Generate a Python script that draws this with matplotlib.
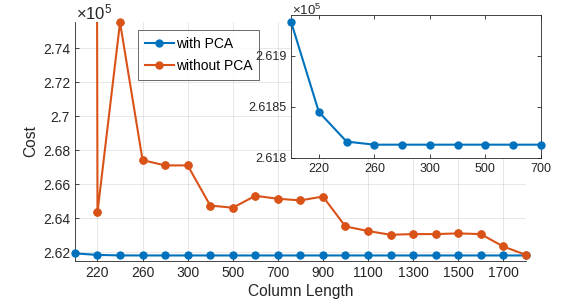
import matplotlib.pyplot as plt
import numpy as np

plt.rcParams['font.family'] = ['Liberation Sans', 'DejaVu Sans']
plt.rcParams['mathtext.fontset'] = 'custom'
plt.rcParams['mathtext.rm'] = 'Liberation Sans'
plt.rcParams['mathtext.it'] = 'Liberation Sans'

# column lengths (plotted as equally spaced categories)
col_len = [200, 220, 240, 260, 280, 300, 400, 500, 600, 700, 800,
           900, 1000, 1100, 1200, 1300, 1400, 1500, 1600, 1700, 1800]

# cost in units of 1e5
cost_pca = [2.61933, 2.61845, 2.61816, 2.61813, 2.61813, 2.61813, 2.61813,
            2.61813, 2.61813, 2.61813, 2.61813, 2.61813, 2.61813, 2.61813,
            2.61813, 2.61813, 2.61813, 2.61813, 2.61813, 2.61813, 2.61813]
cost_nopca = [9.0, 2.6436, 2.7552, 2.6742, 2.6711, 2.6711, 2.6475, 2.6462,
              2.6532, 2.6515, 2.6505, 2.6528, 2.6352, 2.6325, 2.6303, 2.6307,
              2.6307, 2.6311, 2.6307, 2.6234, 2.6185]

n_inset = 10  # inset shows 200..700

blue = '#0072BD'
orange = '#D95319'
axc = '#262626'

x = np.arange(len(col_len))
fig = plt.figure(figsize=(5.81, 3.05), dpi=100)
ax = fig.add_axes([0.129, 0.145, 0.776, 0.782])

ylim = (2.6150, 2.7553)
ax.plot(x, cost_pca, '-o', color=blue, lw=1.5, ms=5, clip_on=False, zorder=3, label='with PCA')
ax.plot(x, cost_nopca, '-o', color=orange, lw=1.5, ms=5, zorder=3, label='without PCA')
# markers are not clipped at the axes edge
vis = (np.array(cost_nopca) <= ylim[1] + 1e-6)
ax.plot(x[vis], np.array(cost_nopca)[vis], 'o', color=orange, ms=5, clip_on=False, zorder=3)

ax.set_xlim(0, len(col_len) - 1)
ax.set_ylim(*ylim)
ax.set_xticks(x[1::2])
ax.set_xticklabels([str(c) for c in col_len[1::2]])
ax.set_yticks([2.62, 2.64, 2.66, 2.68, 2.70, 2.72, 2.74])
ax.set_yticklabels(['2.62', '2.64', '2.66', '2.68', '2.7', '2.72', '2.74'])
ax.tick_params(direction='in', length=3, colors=axc, labelsize=10, width=0.6)
ax.grid(True, color='#262626', alpha=0.12, lw=0.6)
ax.set_axisbelow(True)
for s in ['top', 'right']:
    ax.spines[s].set_visible(False)
for s in ['left', 'bottom']:
    ax.spines[s].set_color(axc)
    ax.spines[s].set_linewidth(0.6)
ax.set_xlabel('Column Length', fontsize=11.2, color=axc, labelpad=3)
ax.set_ylabel('Cost', fontsize=11.2, color=axc, labelpad=3)
ax.text(0.003, 1.0, r'$\times10^{5}$', transform=ax.transAxes, ha='left', va='bottom',
        fontsize=12, color=axc)

leg = ax.legend(loc='upper left', bbox_to_anchor=(0.237, 0.902), bbox_transform=fig.transFigure,
                fontsize=10, frameon=True, fancybox=False, borderaxespad=0,
                handlelength=2.1, handletextpad=0.15, borderpad=0.5, labelspacing=0.6)
leg.get_frame().set_edgecolor(axc)
leg.get_frame().set_linewidth(0.6)
for t in leg.get_texts():
    t.set_color('black')

# inset
ins = fig.add_axes([0.501, 0.482, 0.430, 0.470])
xi = x[:n_inset]
ins.plot(xi, cost_pca[:n_inset], '-o', color=blue, lw=1.5, ms=5, clip_on=False, zorder=3)
ins.set_xlim(0, n_inset - 1)
ins.set_ylim(2.6180, 2.61940)
ins.set_xticks(xi[1::2])
ins.set_xticklabels([str(c) for c in col_len[1:n_inset:2]])
ins.set_yticks([2.618, 2.6185, 2.619])
ins.set_yticklabels(['2.618', '2.6185', '2.619'])
ins.tick_params(direction='in', length=3, colors=axc, labelsize=9, width=0.6,
                top=True, right=True)
for s in ins.spines.values():
    s.set_color(axc)
    s.set_linewidth(0.6)
ins.text(0.005, 0.975, r'$\times10^{5}$', transform=ins.transAxes, ha='left', va='bottom',
         fontsize=9.5, color=axc)

fig.savefig('out.png', dpi=100)
